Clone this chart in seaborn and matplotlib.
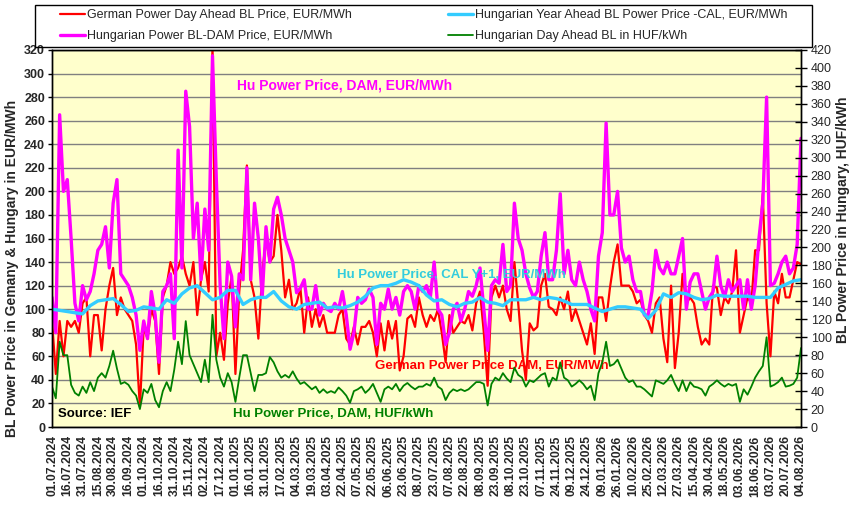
import numpy as np
import pandas as pd
import matplotlib
matplotlib.use("Agg")
import matplotlib.pyplot as plt
from matplotlib.ticker import MultipleLocator
from matplotlib.patches import Rectangle
import seaborn as sns

# ---------------- data ----------------
tick_labels = [
    "01.07.2024", "16.07.2024", "31.07.2024", "15.08.2024", "30.08.2024", "16.09.2024",
    "01.10.2024", "16.10.2024", "31.10.2024", "15.11.2024", "02.12.2024", "17.12.2024",
    "01.01.2025", "16.01.2025", "31.01.2025", "17.02.2025", "04.03.2025", "19.03.2025",
    "03.04.2025", "22.04.2025", "07.05.2025", "22.05.2025", "06.06.2025", "23.06.2025",
    "08.07.2025", "23.07.2025", "07.08.2025", "22.08.2025", "08.09.2025", "23.09.2025",
    "08.10.2025", "23.10.2025", "07.11.2025", "24.11.2025", "09.12.2025", "24.12.2025",
    "09.01.2026", "26.01.2026", "10.02.2026", "25.02.2026", "12.03.2026", "27.03.2026",
    "15.04.2026", "30.04.2026", "18.05.2026", "03.06.2026", "18.06.2026", "03.07.2026",
    "20.07.2026", "04.08.2026",
]

# Hungarian Power BL-DAM Price, EUR/MWh (4 readings per tick interval)
hu_dam_eur = [
    110, 80, 265, 200, 210, 160, 105, 90, 120, 108, 115, 130, 150, 155, 170, 135,
    190, 210, 130, 125, 120, 110, 95, 65, 90, 75, 115, 95, 55, 115, 120,
    130, 75, 235, 135, 285, 255, 160, 190, 125, 185, 150, 315, 210, 120, 75, 140,
    128, 85, 130, 125, 220, 125, 190, 160, 110, 170, 140, 185, 195, 180, 160, 150,
    140, 114, 118, 125, 100, 100, 120, 95, 105, 100, 98, 105, 100, 115, 95, 66,
    80, 110, 105, 108, 117, 110, 70, 105, 100, 117, 100, 110, 95, 115, 120, 115, 100, 120,
    115, 120, 110, 140, 100, 95, 70, 80, 100, 105, 90, 100, 115, 111, 120, 135,
    100, 65, 120, 125, 122, 155, 115, 120, 190, 160, 150, 130, 118, 110, 115, 145, 165,
    125, 125, 150, 198, 130, 150, 125, 120, 140, 125, 115, 100, 90, 145, 165, 258,
    180, 180, 200, 152, 140, 145, 125, 115, 115, 95, 95, 115, 150, 135, 130, 140, 130,
    130, 145, 160, 100, 123, 130, 130, 115, 100, 110, 115, 145, 120, 110, 125, 115,
    120, 125, 100, 125, 100, 120, 160, 190, 280, 120, 122, 130, 140, 145, 130, 135, 155, 245,
]

# German Power Day Ahead BL Price, EUR/MWh
de_dam_eur = [
    90, 45, 90, 60, 90, 85, 90, 80, 105, 110, 60, 95, 95, 65, 100, 120,
    135, 95, 110, 100, 95, 90, 70, 17, 85, 75, 100, 90, 45, 110, 120,
    140, 130, 135, 145, 130, 120, 140, 95, 125, 140, 115, 325, 60, 80, 57, 105,
    128, 45, 115, 150, 222, 125, 110, 75, 130, 160, 140, 145, 180, 150, 110, 125,
    100, 105, 118, 80, 110, 85, 100, 85, 95, 80, 80, 80, 95, 100, 75, 70,
    85, 70, 85, 85, 90, 80, 60, 88, 65, 90, 75, 90, 48, 60, 92, 95, 85, 110,
    95, 85, 95, 90, 100, 80, 55, 95, 80, 85, 90, 88, 95, 82, 105, 115,
    80, 35, 110, 120, 110, 120, 100, 90, 140, 105, 65, 40, 88, 82, 85, 120, 130,
    102, 100, 95, 110, 100, 115, 90, 100, 90, 80, 70, 88, 62, 110, 110, 90,
    118, 140, 155, 120, 120, 120, 115, 105, 108, 95, 90, 80, 105, 110, 75, 55, 120,
    50, 80, 130, 105, 110, 105, 85, 70, 75, 70, 120, 118, 95, 110, 105, 115,
    150, 80, 95, 110, 105, 150, 150, 198, 105, 60, 115, 105, 130, 110, 110, 125, 140, 138,
]

# Hungarian Day Ahead BL in HUF/kWh (right axis)
hu_dam_huf = [
    45, 32, 95, 80, 80, 47, 38, 35, 45, 38, 50, 40, 55, 60, 55, 68,
    85, 65, 48, 50, 47, 40, 35, 20, 42, 38, 48, 30, 22, 40, 50,
    40, 64, 95, 70, 118, 80, 70, 60, 50, 75, 50, 125, 75, 55, 45, 60,
    50, 28, 55, 80, 80, 60, 40, 58, 58, 60, 78, 72, 62, 55, 58, 55,
    62, 54, 48, 50, 46, 42, 45, 38, 42, 38, 40, 38, 44, 40, 35, 27,
    40, 42, 45, 38, 42, 48, 38, 28, 42, 45, 42, 48, 40, 46, 49, 45, 42, 45,
    45, 48, 46, 55, 45, 42, 30, 38, 42, 40, 42, 40, 42, 46, 50, 50,
    48, 24, 48, 55, 52, 60, 54, 50, 66, 58, 55, 45, 52, 50, 54, 58, 60,
    45, 55, 52, 72, 55, 52, 45, 48, 52, 48, 42, 46, 30, 60, 72, 95,
    68, 70, 75, 65, 55, 50, 52, 45, 45, 42, 38, 34, 52, 50, 48, 52, 58,
    48, 40, 52, 40, 50, 45, 44, 42, 35, 45, 48, 52, 48, 45, 48, 46,
    48, 28, 42, 36, 45, 55, 62, 68, 100, 45, 47, 50, 55, 45, 46, 48, 55, 88,
]

# Hungarian Year Ahead BL Power Price - CAL, EUR/MWh (2 readings per tick interval)
hu_cal_eur = [
    100, 99, 98, 97, 96, 103, 107, 108, 109, 104, 98, 99, 102, 101, 100, 108,
    105, 113, 118, 120, 114, 108, 110, 116, 116, 104, 108, 110, 110, 115, 107, 102,
    100, 104, 105, 106, 101, 102, 101, 103, 106, 111, 118, 120, 120, 122, 125, 123, 120,
    112, 107, 108, 104, 102, 105, 106, 110, 106, 105, 103, 108, 108, 108, 110, 108,
    110, 109, 107, 104, 104, 104, 101, 98, 100, 102, 102, 101, 100, 92, 99, 113, 110,
    114, 113, 110, 108, 109, 112, 111, 111, 111, 111, 110, 110, 110, 118, 121, 124, 125,
]

series_names = [
    "German Power Day Ahead BL Price, EUR/MWh",
    "Hungarian Power BL-DAM Price, EUR/MWh",
    "Hungarian Year Ahead BL Power Price -CAL, EUR/MWh",
    "Hungarian Day Ahead BL in HUF/kWh",
]

# ---------------- styling ----------------
sns.set_style("white")
plt.rcParams["font.family"] = ["Liberation Sans", "DejaVu Sans"]

C_RED = "#FF0000"
C_MAG = "#FF00FF"
C_CYAN = "#33CCFF"
C_GREEN = "#008000"

W, H = 852, 507
n_ticks = len(tick_labels)
daily_df = pd.DataFrame({
    "pos": np.linspace(0, n_ticks - 1, len(hu_dam_eur)),
    "de": de_dam_eur,
    "hu": hu_dam_eur,
    "huf": hu_dam_huf,
})
cal_df = pd.DataFrame({
    "pos": np.linspace(0, n_ticks - 1, len(hu_cal_eur)),
    "cal": hu_cal_eur,
})

fig = plt.figure(figsize=(W / 100, H / 100), dpi=100)
ax = fig.add_axes([52 / W, 1 - 427 / H, 749 / W, 377 / H])
ax.set_facecolor("#FFFFCC")

sns.lineplot(data=daily_df, x="pos", y="de", ax=ax, color=C_RED, lw=1.6, legend=False)
sns.lineplot(data=daily_df, x="pos", y="hu", ax=ax, color=C_MAG, lw=2.4, legend=False)
sns.lineplot(data=cal_df, x="pos", y="cal", ax=ax, color=C_CYAN, lw=2.4, legend=False)

ax2 = ax.twinx()
sns.lineplot(data=daily_df, x="pos", y="huf", ax=ax2, color=C_GREEN, lw=1.3, legend=False)

# axes limits & ticks
ax.set_xlim(0, n_ticks - 1)
ax.set_ylim(0, 320)
ax.set_yticks(range(0, 321, 20))
ax2.set_ylim(0, 420)
ax2.set_yticks(range(0, 421, 20))

ax.set_xticks(range(n_ticks))
ax.set_xticklabels(tick_labels, rotation=90, fontsize=8.7, fontweight="bold")
ax.xaxis.set_minor_locator(MultipleLocator(0.2))
ax.tick_params(axis="x", which="both", direction="out", length=4, width=1, color="black", pad=2)
ax.tick_params(axis="y", direction="out", length=3, width=1, color="black", labelsize=9, pad=2)
for lbl in ax.get_yticklabels():
    lbl.set_fontweight("bold")
ax2.tick_params(axis="y", direction="inout", length=8, width=1, color="black", labelsize=9, pad=3)

ax.grid(axis="y", color="#808080", lw=1)
ax.grid(axis="x", visible=False)
for a in (ax, ax2):
    for sp in a.spines.values():
        sp.set_color("black")
        sp.set_linewidth(1)

ax.set_xlabel("")
ax.set_ylabel("BL Power Price in Gemany & Hungary in EUR/MWh", fontsize=10, fontweight="bold")
ax.yaxis.set_label_coords(-0.044, 0.42)
ax2.set_ylabel("BL Power Price in Hungary, HUF/kWh", fontsize=10, fontweight="bold", rotation=90)
ax2.yaxis.set_label_coords(1.047, 0.55)

# annotations
ax.text(0.247, 0.907, "Hu Power Price, DAM, EUR/MWh", transform=ax.transAxes, color=C_MAG,
        fontsize=10, fontweight="bold", va="center", ha="left")
ax.text(0.380, 0.403, "Hu Power Price, CAL Y+1, EUR/MWh", transform=ax.transAxes, color="#33CCDD",
        fontsize=9.5, fontweight="bold", va="center", ha="left")
ax.text(0.431, 0.162, "German Power Price DAM, EUR/MWh", transform=ax.transAxes, color=C_RED,
        fontsize=9.5, fontweight="bold", va="center", ha="left")
ax.text(0.242, 0.034, "Hu Power Price, DAM, HUF/kWh", transform=ax.transAxes, color=C_GREEN,
        fontsize=9.5, fontweight="bold", va="center", ha="left")
ax.text(0.008, 0.034, "Source: IEF", transform=ax.transAxes, color="black",
        fontsize=9.5, fontweight="bold", va="center", ha="left")

# legend: frame box drawn separately, legend entries placed inside
fig.add_artist(Rectangle((35 / W, 1 - 47 / H), 777 / W, 42 / H, transform=fig.transFigure,
                         fill=False, edgecolor="black", lw=1))
handles = [ax.lines[0], ax.lines[1], ax.lines[2], ax2.lines[0]]
leg = fig.legend(handles, series_names, loc="upper left",
                 bbox_to_anchor=(60 / W, 1 - 9 / H), ncol=2,
                 frameon=False, fontsize=9, handlelength=2.0, handletextpad=0.15,
                 borderaxespad=0, borderpad=0, labelspacing=0.72, columnspacing=7.7)

fig.savefig("out.png", dpi=100, facecolor="white")
